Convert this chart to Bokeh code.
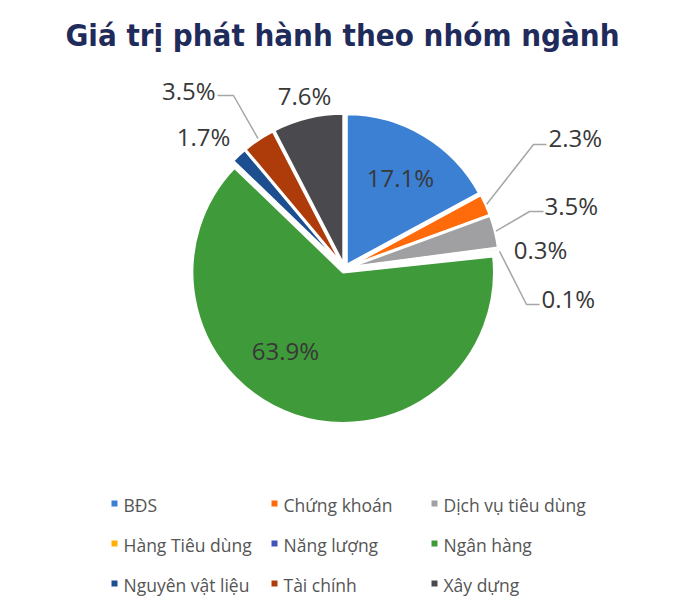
from bokeh.plotting import figure
from bokeh.models import ColumnDataSource, Range1d
from bokeh.core.properties import value
from bokeh.embed import file_html
from bokeh.resources import INLINE
import numpy as np

# ---------------- data ----------------
title = "Giá trị phát hành theo nhóm ngành"
categories = ["BĐS", "Chứng khoán", "Dịch vụ tiêu dùng", "Hàng Tiêu dùng",
              "Năng lượng", "Ngân hàng", "Nguyên vật liệu", "Tài chính", "Xây dựng"]
shares = [17.1, 2.3, 3.5, 0.3, 0.1, 63.9, 1.7, 3.5, 7.6]
colors = ["#3c80d4", "#ff6a0a", "#a0a0a2", "#ffb000", "#4055b8",
          "#3f9a3a", "#1d4e8f", "#ad3c0a", "#4a494e"]

# ---------------- layout ----------------
W, H = 664, 596


def px(xi, yi):
    """picture pixel -> data coordinates (1 unit = 1 px, y up)"""
    return xi, H - yi


CX, CY = px(344, 268)
R = 151
EXPLODE = 4

# label anchors (picture px) and alignment per category index
label_layout = {
    0: (400, 177, "center"),
    1: (548, 137, "left"),
    2: (544, 205, "left"),
    3: (540, 249, "center"),
    4: (541, 298, "left"),
    5: (285, 350, "center"),
    6: (203, 136, "center"),
    7: (215, 90, "right"),
    8: (304, 95, "center"),
}
# leader lines: elbow and end (picture px)
leader_layout = {
    1: [(533, 144), (546, 144)],
    2: [(529, 211), (543, 211)],
    4: [(526, 304), (539, 304)],
    7: [(233, 95), (217, 95)],
}

# ---------------- geometry from data ----------------
frac = np.array(shares) / sum(shares)
cum_end = np.cumsum(frac)
cum_start = cum_end - frac
start = np.pi / 2 - 2 * np.pi * cum_end
end = np.pi / 2 - 2 * np.pi * cum_start
mid = (start + end) / 2
wx = CX + EXPLODE * np.cos(mid)
wy = CY + EXPLODE * np.sin(mid)

src = ColumnDataSource(dict(x=wx, y=wy, start=start, end=end, color=colors, cat=categories))

p = figure(width=W, height=H, x_range=Range1d(0, W), y_range=Range1d(0, H),
           output_backend="svg", toolbar_location=None, min_border=0)
p.axis.visible = False
p.grid.visible = False
p.outline_line_color = None
p.background_fill_color = "white"
p.border_fill_color = "white"

p.wedge(x="x", y="y", radius=R, start_angle="start", end_angle="end",
        fill_color="color", line_color="white", line_width=2.5, source=src)

# leader lines
for i, pts in leader_layout.items():
    sx = wx[i] + (R + 1) * np.cos(mid[i])
    sy = wy[i] + (R + 1) * np.sin(mid[i])
    lx = [sx] + [px(a, b)[0] for a, b in pts]
    ly = [sy] + [px(a, b)[1] for a, b in pts]
    p.line(lx, ly, line_color="#a6a6a6", line_width=1.5)

# value labels
for align in ("left", "center", "right"):
    idx = [i for i, v in label_layout.items() if v[2] == align]
    if not idx:
        continue
    lsrc = ColumnDataSource(dict(
        x=[px(label_layout[i][0], label_layout[i][1])[0] for i in idx],
        y=[px(label_layout[i][0], label_layout[i][1])[1] for i in idx],
        t=[f"{shares[i]:.1f}%" for i in idx]))
    p.text(x="x", y="y", text="t", source=lsrc, text_align=align, text_baseline="middle",
           text_font=value("Open Sans"), text_font_size="24px", text_color="#383838")

# title
tx, ty = px(342, 34)
p.text(x=[tx], y=[ty], text=[title], text_align="center", text_baseline="middle",
       text_font=value("DejaVu Sans Condensed"), text_font_style="bold", text_font_size="31px",
       text_color="#1f2b5b")

# legend (3 columns)
mx, my, tx_, ty_ = [], [], [], []
for k, cat in enumerate(categories):
    row, col = divmod(k, 3)
    x0, y0 = px(114 + 160 * col, 503 + 40 * row)
    mx.append(x0)
    my.append(y0)
    tx_.append(x0 + 9)
    ty_.append(y0 - 1)
p.scatter(x=mx, y=my, marker="square", size=6, fill_color=colors, line_color=None)
p.text(x=tx_, y=ty_, text=categories, text_align="left", text_baseline="middle",
       text_font=value("Open Sans"), text_font_size="17.5px", text_color="#555555")

open("out.html", "w").write(file_html(p, INLINE))
